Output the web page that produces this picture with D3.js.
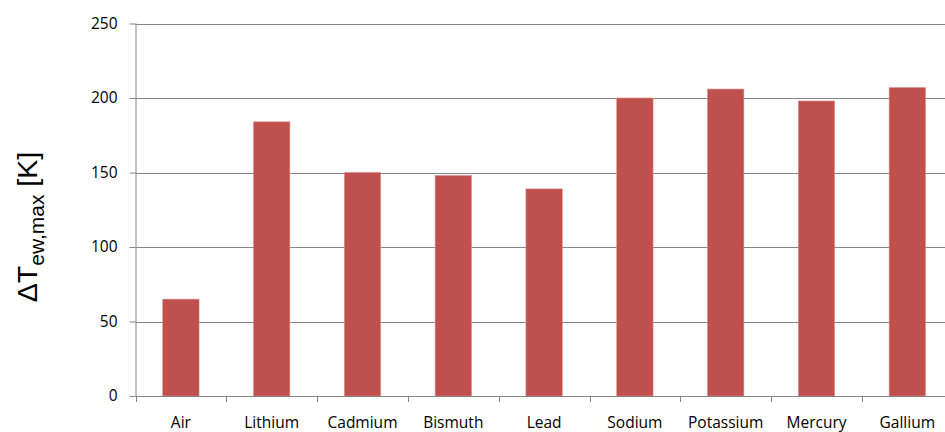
<!DOCTYPE html>
<html><head><meta charset="utf-8">
<script src="https://cdn.jsdelivr.net/npm/d3@7"></script>
<style>body{margin:0;background:#fff}svg{display:block}</style>
</head><body>
<svg id="c" width="945" height="432"></svg>
<script>
const categories = ["Air","Lithium","Cadmium","Bismuth","Lead","Sodium","Potassium","Mercury","Gallium"];
const values = [65,184,150,148,139,200,206,198,207];
const yTicks = [0,50,100,150,200,250];

(function(){
const svg = d3.select("#c");
const pL = 135.5, pR = 952.7, pT = 23.5, pB = 396;
const x = d3.scaleBand().domain(categories).range([pL, pR]).paddingInner(0.6).paddingOuter(0.3);
const y = d3.scaleLinear().domain([0,250]).range([pB, pT]);
const grey = "#868686";
const step = x.step();
const tf = "'Open Sans', Lato, sans-serif";

// gridlines
svg.append("g").selectAll("line").data(yTicks.filter(d=>d>0)).join("line")
  .attr("x1", pL).attr("x2", pR)
  .attr("y1", d=>Math.round(y(d))+0.5).attr("y2", d=>Math.round(y(d))+0.5)
  .attr("stroke", grey).attr("stroke-width", 1);

// bars
svg.append("g").selectAll("rect").data(values).join("rect")
  .attr("x", (d,i)=>x(categories[i]))
  .attr("y", d=>y(d))
  .attr("width", x.bandwidth())
  .attr("height", d=>pB - y(d))
  .attr("fill", "#C0504D")
  .attr("stroke", "#D98A88").attr("stroke-width", 0.6);

// y axis
const ya = d3.axisLeft(y).tickValues(yTicks).tickSize(6).tickPadding(12);
const gy = svg.append("g").attr("transform", `translate(${pL},0)`).call(ya);
gy.select(".domain").attr("stroke", grey).attr("d", `M0.5,${pT}V${pB}`);
gy.selectAll(".tick line").attr("stroke", grey);
gy.selectAll("text").attr("font-family", tf).attr("font-size", 15.5).attr("fill", "#000");

// x axis
const xa = svg.append("g");
xa.append("line").attr("x1", pL).attr("x2", pR).attr("y1", pB+0.5).attr("y2", pB+0.5).attr("stroke", grey);
const bounds = d3.range(categories.length+1).map(i => pL + i*step);
xa.selectAll("line.t").data(bounds).join("line").attr("class","t")
  .attr("x1", d=>Math.round(d)+0.5).attr("x2", d=>Math.round(d)+0.5)
  .attr("y1", pB).attr("y2", pB+6).attr("stroke", grey);
xa.selectAll("text").data(categories).join("text")
  .attr("x", d=>x(d)+x.bandwidth()/2).attr("y", 428)
  .attr("text-anchor","middle")
  .attr("font-family", tf).attr("font-size", 15.5).attr("fill","#000")
  .text(d=>d);

// y label
const lab = svg.append("text")
  .attr("transform", "translate(37,227) rotate(-90)")
  .attr("text-anchor","middle")
  .attr("font-family", "'Liberation Sans', Arial, sans-serif").attr("font-size", 28.5).attr("fill","#000");
lab.append("tspan").text("ΔT");
lab.append("tspan").attr("font-size", 21).attr("dy", 7).text("ew,max");
lab.append("tspan").attr("dy", -7).text(" [K]");
})();
</script>
</body></html>
